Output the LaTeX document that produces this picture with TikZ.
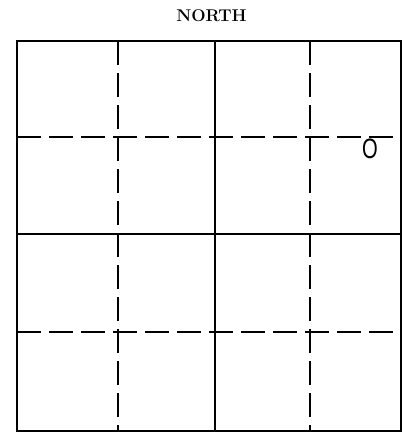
\documentclass[tikz,border=0pt]{standalone}
\usepackage{fontspec}
\usepackage{tikz}
\newfontfamily\markfont{Liberation Sans}

\begin{document}
\begin{tikzpicture}[x=1pt,y=-1pt,
  gridline/.style={line width=1.5pt},
  dashline/.style={line width=1.5pt,dash pattern=on 24pt off 8pt}]
\useasboundingbox (0,0) rectangle (404,432);
\node (north) at (211.5,15.5) {\fontsize{17}{17}\selectfont\bfseries NORTH};
% outer field
\draw[line width=2pt] (17,41) rectangle (401,431);
% solid lines
\draw[gridline] (215,41) -- (215,431);
\draw[gridline] (17,234) -- (401,234);
% dashed lines
\draw[dashline] (118,41) -- (118,431);
\draw[dashline] (310,41) -- (310,431);
\draw[dashline] (17,137) -- (401,137);
\draw[dashline] (17,332) -- (401,332);
\node[xscale=0.72] (spot) at (370,149) {\markfont\fontsize{28}{28}\selectfont O};
\end{tikzpicture}
\end{document}
